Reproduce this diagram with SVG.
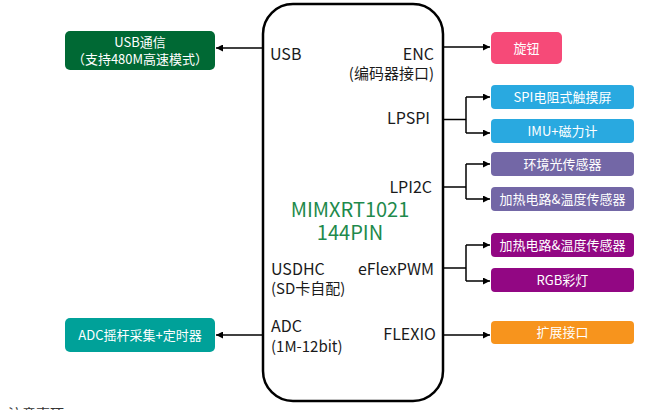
<svg xmlns="http://www.w3.org/2000/svg" width="663" height="410" viewBox="0 0 663 410">
<style>
text{font-family:"Noto Sans CJK SC","Noto Sans",sans-serif}
.lbl{font-size:16px;fill:#1a1a1a}
.sub{font-size:15px;fill:#1a1a1a}
.bt{font-size:13px;fill:#ffffff;text-anchor:middle}
.chip{font-size:20px;fill:#1e8a4c;text-anchor:middle}
.ln{fill:none;stroke:#000;stroke-width:1.5}
</style>
<defs>
<marker id="ah" viewBox="0 0 10 10" refX="10" refY="5" markerWidth="7" markerHeight="7" markerUnits="userSpaceOnUse" orient="auto">
<path d="M0,0 L10,5 L0,10 z" fill="#000"/>
</marker>
</defs>
<rect width="663" height="410" fill="#ffffff"/>
<g id="mcu">
<rect x="263" y="4" width="180" height="397" rx="30" fill="#fff" stroke="#000" stroke-width="2.5"/>
<text class="lbl" x="270" y="60">USB</text>
<text class="lbl" x="434" y="60" text-anchor="end">ENC</text>
<text class="sub" x="434" y="79" text-anchor="end">(编码器接口)</text>
<text class="lbl" x="430" y="124" text-anchor="end">LPSPI</text>
<text class="lbl" x="432" y="193" text-anchor="end">LPI2C</text>
<text class="chip" x="350" y="217">MIMXRT1021</text>
<text class="chip" x="350" y="240">144PIN</text>
<text class="lbl" x="271" y="275">USDHC</text>
<text class="sub" x="271" y="294">(SD卡自配)</text>
<text class="lbl" x="434" y="275" text-anchor="end">eFlexPWM</text>
<text class="lbl" x="271" y="332">ADC</text>
<text class="sub" x="271" y="352">(1M-12bit)</text>
<text class="lbl" x="436" y="340" text-anchor="end">FLEXIO</text>
</g>
<g id="usb">
<rect x="65" y="31" width="150" height="39" rx="5" fill="#006934"/>
<text class="bt" x="140" y="47">USB通信</text>
<text class="bt" x="140" y="64">（支持480M高速模式）</text>
</g>
<g id="adc">
<rect x="65" y="318" width="150" height="34" rx="5" fill="#00a199"/>
<text class="bt" x="140" y="340">ADC摇杆采集+定时器</text>
</g>
<g id="knob">
<rect x="491" y="32" width="71" height="32" rx="5" fill="#f64a78"/>
<text class="bt" x="526.5" y="52.5">旋钮</text>
</g>
<g id="spi-touch">
<rect x="491" y="85" width="143" height="24" rx="4" fill="#29a9e0"/>
<text class="bt" x="562.5" y="101.5">SPI电阻式触摸屏</text>
</g>
<g id="imu">
<rect x="491" y="119" width="143" height="24" rx="4" fill="#29a9e0"/>
<text class="bt" x="562.5" y="135.5">IMU+磁力计</text>
</g>
<g id="light">
<rect x="491" y="152" width="143" height="24" rx="4" fill="#7367a6"/>
<text class="bt" x="562.5" y="168.5">环境光传感器</text>
</g>
<g id="heat-i2c">
<rect x="491" y="187" width="143" height="24" rx="4" fill="#7367a6"/>
<text class="bt" x="562.5" y="203.5">加热电路&amp;温度传感器</text>
</g>
<g id="heat-pwm">
<rect x="491" y="233" width="143" height="24" rx="4" fill="#920783"/>
<text class="bt" x="562.5" y="249.5">加热电路&amp;温度传感器</text>
</g>
<g id="rgb">
<rect x="491" y="268" width="143" height="24" rx="4" fill="#920783"/>
<text class="bt" x="562.5" y="284.5">RGB彩灯</text>
</g>
<g id="ext">
<rect x="491" y="321" width="143" height="23" rx="4" fill="#f7941d"/>
<text class="bt" x="562.5" y="337">扩展接口</text>
</g>
<g id="connectors">
<path class="ln" d="M263,48 H216" marker-end="url(#ah)"/>
<path class="ln" d="M263,335 H216" marker-end="url(#ah)"/>
<path class="ln" d="M443,47 H490" marker-end="url(#ah)"/>
<path class="ln" d="M443,119.5 H466"/>
<path class="ln" d="M466,97 V133"/>
<path class="ln" d="M466,97 H490" marker-end="url(#ah)"/>
<path class="ln" d="M466,133 H490" marker-end="url(#ah)"/>
<path class="ln" d="M443,187 H466"/>
<path class="ln" d="M466,164 V199"/>
<path class="ln" d="M466,164 H490" marker-end="url(#ah)"/>
<path class="ln" d="M466,199 H490" marker-end="url(#ah)"/>
<path class="ln" d="M443,268 H466"/>
<path class="ln" d="M466,245 V281"/>
<path class="ln" d="M466,245 H490" marker-end="url(#ah)"/>
<path class="ln" d="M466,281 H490" marker-end="url(#ah)"/>
<path class="ln" d="M443,335 H490" marker-end="url(#ah)"/>
</g>
<text x="8" y="419" style="font-size:14px;fill:#333">注意事项</text>
</svg>
